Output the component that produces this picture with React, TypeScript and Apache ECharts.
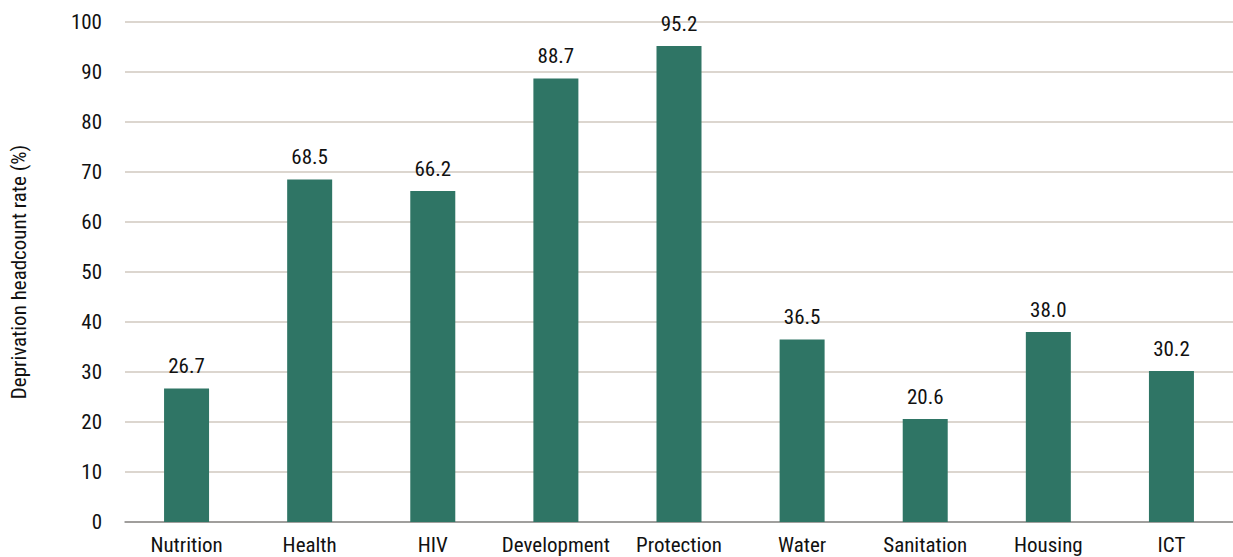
import React, { useEffect, useRef } from "react";
import * as echarts from "echarts";

const categories = ["Nutrition", "Health", "HIV", "Development", "Protection", "Water", "Sanitation", "Housing", "ICT"];
const values = [26.7, 68.5, 66.2, 88.7, 95.2, 36.5, 20.6, 38.0, 30.2];
const yAxisTitle = "Deprivation headcount rate (%)";

const FONT = "Roboto, 'Noto Sans', sans-serif";

export default function App() {
  const ref = useRef<HTMLDivElement>(null);
  useEffect(() => {
    document.body.style.margin = "0";
    const st = document.createElement("style");
    st.textContent = "#root svg text { font-stretch: condensed !important; }";
    document.head.appendChild(st);
    const chart = echarts.init(ref.current!, null, { renderer: "svg" });
    chart.setOption({
      animation: false,
      textStyle: { fontFamily: FONT },
      grid: { left: 124, top: 22, width: 1113, height: 500 },
      xAxis: {
        type: "category",
        data: categories,
        axisTick: { show: false },
        axisLine: { lineStyle: { color: "#8c8c8c", width: 1.5 } },
        axisLabel: { color: "#111", fontSize: 21, fontFamily: FONT, margin: 12, interval: 0 },
      },
      yAxis: {
        type: "value",
        min: 0,
        max: 100,
        interval: 10,
        name: yAxisTitle,
        nameLocation: "middle",
        nameGap: 96,
        nameTextStyle: { color: "#111", fontSize: 21, fontFamily: FONT },
        axisLabel: { color: "#111", fontSize: 21, fontFamily: FONT, margin: 23 },
        splitLine: { lineStyle: { color: "#dcd6cf", width: 2 } },
        axisLine: { show: false },
        axisTick: { show: false },
      },
      series: [
        {
          type: "bar",
          data: values,
          barWidth: 45,
          itemStyle: { color: "#2f7565" },
          label: {
            show: true,
            position: "top",
            distance: 12,
            color: "#111",
            fontSize: 21,
            fontFamily: FONT,
            formatter: (p: any) => Number(p.value).toFixed(1),
          },
        },
      ],
    });
    return () => {
      chart.dispose();
      st.remove();
    };
  }, []);
  return <div ref={ref} style={{ width: 1233, height: 557 }} />;
}
